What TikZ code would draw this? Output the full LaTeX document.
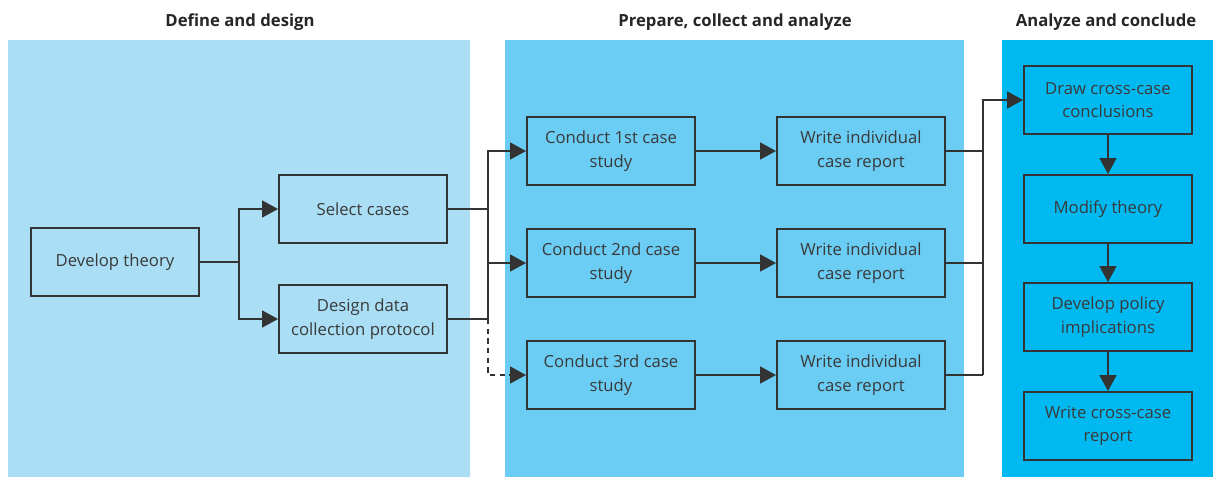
\documentclass[tikz,border=0pt]{standalone}
\usepackage{fontspec}
\setmainfont{Open Sans}
\usetikzlibrary{arrows.meta,positioning,calc}
\definecolor{paneA}{HTML}{A9DEF5}
\definecolor{paneB}{HTML}{6BCDF4}
\definecolor{paneC}{HTML}{00B9F1}
\definecolor{edge}{HTML}{333333}
\definecolor{ink}{HTML}{3A3A3A}
\begin{document}
\begin{tikzpicture}[x=0.02cm,y=-0.02cm,
every node/.style={draw=edge,line width=1.1pt,minimum width=3.36cm,minimum height=1.36cm,
  align=center,text=ink,inner sep=1pt,font=\fontsize{9.5}{13.5}\selectfont},
title/.style={draw=none,minimum width=0,minimum height=0,text=black!85,
  font=\bfseries\fontsize{9.5}{12}\selectfont},
link/.style={draw=edge,line width=1.1pt},
tip/.style={link,-{Triangle[length=9pt,width=9.5pt]}}]
% panels
\fill[white] (0,0) rectangle (1225,477);
\fill[paneA] (8,40) rectangle (470,477);
\fill[paneB] (505,40) rectangle (964,477);
\fill[paneC] (1002,40) rectangle (1213,477);
\node[title] (T1) at (240,22) {Define and design};
\node[title] (T2) at (735,22) {Prepare, collect and analyze};
\node[title] (T3) at (1106,22) {Analyze and conclude};
% define and design
\node (Dev) at (115,262) {Develop theory};
\node (Sel) at (363,209) {Select cases};
\node (Dsn) at (363,319) {Design data\\collection protocol};
% prepare, collect and analyze
\node (C1) at (611,151) {Conduct 1st case\\study};
\node (C2) at (611,263) {Conduct 2nd case\\study};
\node (C3) at (611,375) {Conduct 3rd case\\study};
\node (W1) at (861,151) {Write individual\\case report};
\node (W2) at (861,263) {Write individual\\case report};
\node (W3) at (861,375) {Write individual\\case report};
% analyze and conclude
\node (D1) at (1108,100) {Draw cross-case\\conclusions};
\node (D2) at (1108,209) {Modify theory};
\node (D3) at (1108,317) {Develop policy\\implications};
\node (D4) at (1108,426) {Write cross-case\\report};
% connectors
\coordinate (J1) at (239,262);
\coordinate (J2) at (488,319);
\coordinate (J3) at (983,375);
\draw[tip] (Dev.east) -- (J1) |- (Sel.west);
\draw[tip] (J1) |- (Dsn.west);
\draw[link] (Sel.east) -- (J2 |- Sel.east);
\draw[link] (Dsn.east) -- (J2);
\draw[tip] (J2) |- (C1.west);
\draw[tip] (J2 |- C2.west) -- (C2.west);
\draw[tip,dash pattern=on 3pt off 2.5pt] (J2) |- (C3.west);
\draw[tip] (C1) -- (W1);
\draw[tip] (C2) -- (W2);
\draw[tip] (C3) -- (W3);
\draw[link] (W1.east) -- (J3 |- W1.east);
\draw[link] (W2.east) -- (J3 |- W2.east);
\draw[link] (W3.east) -- (J3);
\draw[tip] (J3) |- (D1.west);
\draw[tip] (D1) -- (D2);
\draw[tip] (D2) -- (D3);
\draw[tip] (D3) -- (D4);
\end{tikzpicture}
\end{document}
